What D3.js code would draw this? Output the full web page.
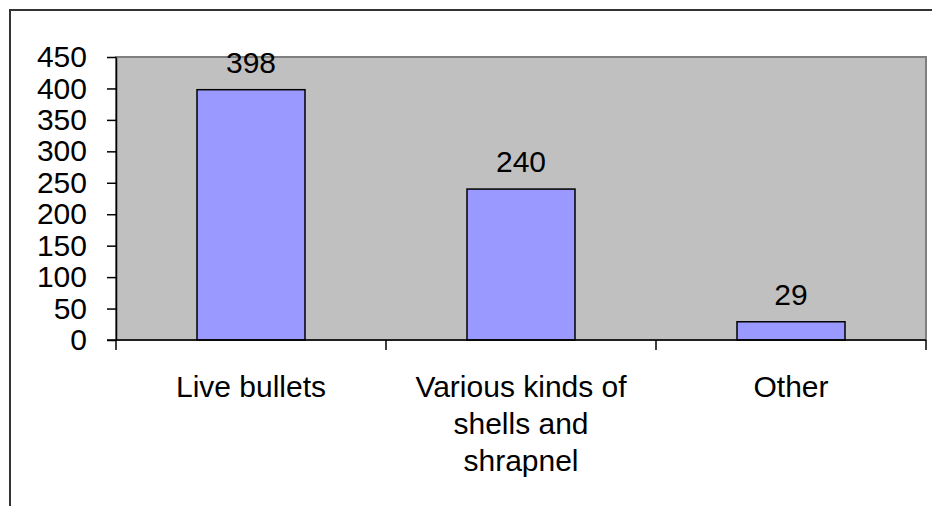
<!DOCTYPE html>
<html>
<head>
<meta charset="utf-8">
<script src="https://cdn.jsdelivr.net/npm/d3@7"></script>
<style>
  html, body { margin: 0; padding: 0; background: #fff; }
  svg { display: block; }
  text { font-family: "Liberation Sans", Arial, sans-serif; fill: #000; }
</style>
</head>
<body>
<svg id="chart" width="932" height="506"></svg>
<script>
// Casualties by cause of injury
const categories = ["Live bullets", "Various kinds of shells and shrapnel", "Other"];
const categoryLines = [["Live bullets"], ["Various kinds of", "shells and", "shrapnel"], ["Other"]];
const values = [398, 240, 29];
const yTicks = [0, 50, 100, 150, 200, 250, 300, 350, 400, 450];

const svg = d3.select("#chart");
const W = 932, H = 506;
const plot = { left: 116, right: 926, top: 57, bottom: 340 };
const fontSize = 30;

// outer frame (only the top and left edges fall inside the view)
svg.append("rect")
  .attr("x", 10).attr("y", 10)
  .attr("width", W).attr("height", H)
  .attr("fill", "none").attr("stroke", "#333").attr("stroke-width", 2);

const x = d3.scaleBand()
  .domain(categories)
  .range([plot.left, plot.right])
  .paddingInner(0).paddingOuter(0);

const y = d3.scaleLinear()
  .domain([0, 450])
  .range([plot.bottom, plot.top]);

// plot area
svg.append("rect")
  .attr("x", plot.left).attr("y", plot.top)
  .attr("width", plot.right - plot.left).attr("height", plot.bottom - plot.top)
  .attr("fill", "#c0c0c0").attr("stroke", "#808080").attr("stroke-width", 2);

// bars at 40% of each category band
const barW = x.bandwidth() * 0.4;
svg.append("g").selectAll("rect")
  .data(values)
  .join("rect")
  .attr("x", (d, i) => x(categories[i]) + (x.bandwidth() - barW) / 2)
  .attr("y", d => y(d))
  .attr("width", barW)
  .attr("height", d => y(0) - y(d))
  .attr("fill", "#9999ff")
  .attr("stroke", "#000")
  .attr("stroke-width", 1.5);

// value labels
svg.append("g").selectAll("text")
  .data(values)
  .join("text")
  .attr("x", (d, i) => x(categories[i]) + x.bandwidth() / 2)
  .attr("y", d => y(d) - 17)
  .attr("text-anchor", "middle")
  .attr("font-size", fontSize)
  .text(d => d);

// y axis
const yAxis = svg.append("g")
  .attr("transform", `translate(${plot.left},0)`)
  .call(d3.axisLeft(y).tickValues(yTicks).tickSize(9).tickPadding(20).tickSizeOuter(0));
yAxis.select(".domain").attr("stroke", "#000").attr("stroke-width", 1.5);
yAxis.selectAll(".tick line").attr("stroke", "#000").attr("stroke-width", 1.5);
yAxis.selectAll(".tick text")
  .attr("font-size", fontSize)
  .attr("font-family", "Liberation Sans, Arial, sans-serif")
  .attr("fill", "#000");

// x axis with ticks at category boundaries
const boundaries = categories.map(c => x(c)).concat([plot.right]);
const xAxis = svg.append("g");
xAxis.append("line")
  .attr("x1", plot.left - 9).attr("x2", plot.right)
  .attr("y1", plot.bottom).attr("y2", plot.bottom)
  .attr("stroke", "#000").attr("stroke-width", 1.5);
xAxis.selectAll("line.bt")
  .data(boundaries)
  .join("line")
  .attr("class", "bt")
  .attr("x1", d => d).attr("x2", d => d)
  .attr("y1", plot.bottom).attr("y2", plot.bottom + 10)
  .attr("stroke", "#000").attr("stroke-width", 1.5);

// category labels
const lineH = 37;
svg.append("g").selectAll("text")
  .data(categoryLines)
  .join("text")
  .attr("text-anchor", "middle")
  .attr("font-size", fontSize)
  .attr("y", 397)
  .each(function (lines, i) {
    const cx = x(categories[i]) + x.bandwidth() / 2;
    d3.select(this).selectAll("tspan")
      .data(lines)
      .join("tspan")
      .attr("x", cx)
      .attr("dy", (d, j) => j === 0 ? 0 : lineH)
      .text(d => d);
  });
</script>
</body>
</html>
